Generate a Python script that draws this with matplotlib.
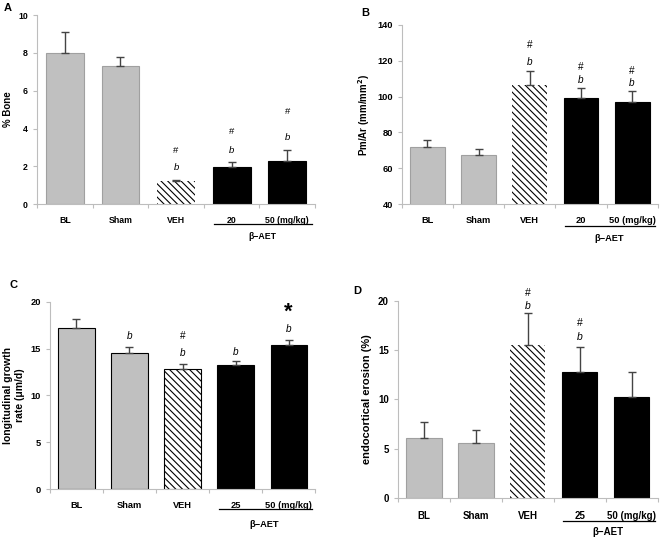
import matplotlib
matplotlib.use("Agg")
import matplotlib.pyplot as plt

plt.rcParams["font.family"] = ["Liberation Sans", "DejaVu Sans"]
plt.rcParams["font.weight"] = "bold"
plt.rcParams["hatch.linewidth"] = 0.8

GRIS = "#c0c0c0"
EJE = "#bdbdbd"
ERR = "#444444"
RAYADO = "\\\\\\\\\\"

grupos_ab = ["BL", "Sham", "VEH", "20", "50 (mg/kg)"]
grupos_cd = ["BL", "Sham", "VEH", "25", "50 (mg/kg)"]

# Panel A: % Bone
a_media = [8.0, 7.3, 1.2, 1.95, 2.3]
a_err = [1.1, 0.5, 0.1, 0.3, 0.55]
a_notas = [[], [], [("b", 1.95), ("#", 2.85)], [("b", 2.85), ("#", 3.85)], [("b", 3.5), ("#", 4.9)]]

# Panel B: Pm/Ar
b_media = [72, 67.5, 106.5, 99, 97]
b_err = [4, 3.5, 8, 5.5, 6]
b_notas = [[], [], [("b", 119.5), ("#", 128.5)], [("b", 109.5), ("#", 116.5)], [("b", 107.5), ("#", 114)]]

# Panel C: longitudinal growth rate
c_media = [17.2, 14.5, 12.8, 13.3, 15.4]
c_err = [1.0, 0.7, 0.6, 0.4, 0.5]
c_notas = [[], [("b", 16.3)], [("b", 14.5), ("#", 16.3)], [("b", 14.6)], [("b", 17.1), ("*", 18.9)]]

# Panel D: endocortical erosion
d_media = [6.1, 5.6, 15.5, 12.8, 10.2]
d_err = [1.6, 1.3, 3.3, 2.5, 2.6]
d_notas = [[], [], [("b", 19.5), ("#", 20.8)], [("b", 16.3), ("#", 17.7)], []]


def panel(fig, rect, letra, letra_pos, medias, errs, notas, grupos, ylim, yticks,
          ylabel, fs_tick, fs_lab, borde_negro, linea_y, aet_y):
    ax = fig.add_axes(rect)
    x = range(len(medias))
    caras = [GRIS, GRIS, "white", "black", "black"]
    if borde_negro:
        bordes = ["black"] * 5
    else:
        bordes = ["#a0a0a0", "#a0a0a0", "white", "black", "black"]
    for i in x:
        ax.bar(i, medias[i], width=0.68, color=caras[i], edgecolor=bordes[i],
               linewidth=0.8, zorder=2)
        if i == 2:
            ax.bar(i, medias[i], width=0.68, color="none", edgecolor="black",
                   hatch=RAYADO, linewidth=0, zorder=2)
    ax.errorbar(list(x), medias, yerr=[[0] * 5, errs], fmt="none", ecolor=ERR,
                elinewidth=1.0, capsize=3, capthick=1.0, zorder=3)
    for i, lista in enumerate(notas):
        for txt, yv in lista:
            if txt == "b":
                ax.text(i, yv, "b", ha="center", va="center", fontsize=fs_tick + 0.5,
                        style="italic", weight="normal")
            elif txt == "*":
                ax.text(i, yv, "*", ha="center", va="center", fontsize=fs_tick + 9,
                        weight="bold")
            else:
                ax.text(i, yv, "#", ha="center", va="center", fontsize=fs_tick + 0.5,
                        weight="normal")
    ax.set_xlim(-0.5, 4.5)
    ax.set_ylim(*ylim)
    ax.set_yticks(yticks)
    ax.set_xticks([i - 0.5 for i in range(6)])
    ax.set_xticklabels([])
    ax.tick_params(axis="both", colors=EJE, length=3, width=0.8,
                   labelcolor="black", labelsize=fs_tick)
    for s in ["top", "right"]:
        ax.spines[s].set_visible(False)
    for s in ["left", "bottom"]:
        ax.spines[s].set_color(EJE)
        ax.spines[s].set_linewidth(0.8)
    for i, g in enumerate(grupos):
        ax.text(i, -0.065, g, transform=ax.get_xaxis_transform(), ha="center",
                va="top", fontsize=fs_tick, weight="bold")
    ax.plot([2.68, 4.45], [linea_y, linea_y], transform=ax.get_xaxis_transform(),
            color="black", lw=0.9, clip_on=False)
    ax.text(3.55, aet_y, "β−AET", transform=ax.get_xaxis_transform(), ha="center",
            va="center", fontsize=fs_tick, weight="bold")
    ax.set_ylabel(ylabel, fontsize=fs_lab, weight="bold")
    fig.text(letra_pos[0], letra_pos[1], letra, fontsize=8, weight="bold",
             ha="left", va="center")
    return ax


fig = plt.figure(figsize=(6.61, 5.40), dpi=100)

panel(fig, [0.056, 0.622, 0.4206, 0.350], "A", (0.006, 0.985),
      a_media, a_err, a_notas, grupos_ab, (0, 10), range(0, 11, 2),
      "% Bone", 6.3, 7, False, -0.107, -0.17)

panel(fig, [0.608, 0.622, 0.387, 0.332], "B", (0.547, 0.976),
      b_media, b_err, b_notas, grupos_ab, (40, 140), range(40, 141, 20),
      "Pm/Ar (mm/mm$^2$)", 6.7, 7, False, -0.12, -0.19)

panel(fig, [0.0756, 0.0944, 0.401, 0.3466], "C", (0.015, 0.472),
      c_media, c_err, c_notas, grupos_cd, (0, 20), range(0, 21, 5),
      "longitudinal growth\nrate (\u03bcm/d)", 6.7, 7.5, True, -0.107, -0.19)

panel(fig, [0.602, 0.0778, 0.393, 0.3652], "D", (0.534, 0.461),
      d_media, d_err, d_notas, grupos_cd, (0, 20), range(0, 21, 5),
      "endocortical erosion (%)", 7, 8, False, -0.115, -0.17)

fig.savefig("out.png", dpi=100)
